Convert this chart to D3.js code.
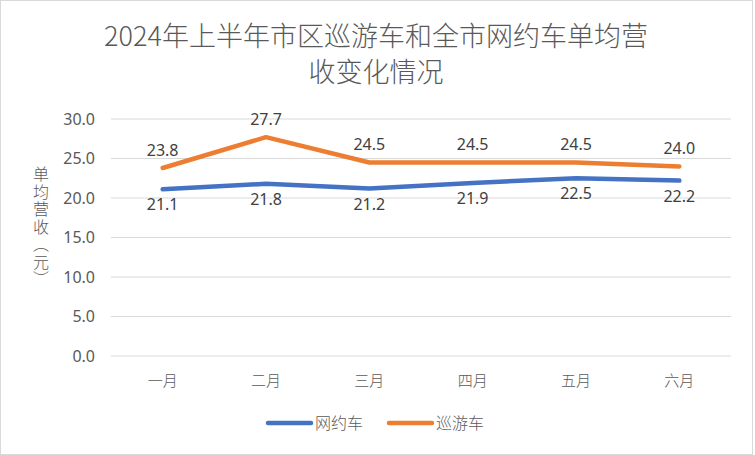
<!DOCTYPE html>
<html>
<head>
<meta charset="utf-8">
<script src="https://cdn.jsdelivr.net/npm/d3@7"></script>
<style>
  body { margin: 0; background: #fff; }
  text { font-family: "Noto Sans CJK SC", "Noto Sans", sans-serif; }
</style>
</head>
<body>
<div id="container"></div>
<script>
const months = ['一月', '二月', '三月', '四月', '五月', '六月'];
const wangyue = [21.1, 21.8, 21.2, 21.9, 22.5, 22.2];
const xunyou = [23.8, 27.7, 24.5, 24.5, 24.5, 24.0];
const yTicks = [0, 5, 10, 15, 20, 25, 30];

const W = 755, H = 455;
const margin = { top: 119, right: 24, bottom: 99, left: 111 };
const width = W - margin.left - margin.right,
  height = H - margin.top - margin.bottom;

const svg = d3.select('#container').append('svg')
  .attr('width', W)
  .attr('height', H);

svg.append('rect')
  .attr('x', 0.5).attr('y', 0.5)
  .attr('width', W - 3).attr('height', H - 1)
  .attr('fill', '#fff')
  .attr('stroke', '#d9d9d9');

// title
const title = svg.append('text')
  .attr('text-anchor', 'middle')
  .attr('fill', '#595959')
  .style('font-size', '27px')
  .style('font-weight', 300);
title.append('tspan').attr('x', 376).attr('y', 46).text('2024年上半年市区巡游车和全市网约车单均营');
title.append('tspan').attr('x', 376).attr('y', 82).text('收变化情况');

const c = svg.append('g')
  .attr('transform', `translate(${margin.left},${margin.top})`);

const xScale = d3.scaleBand().domain(months).range([0, width]);
const yScale = d3.scaleLinear().domain([0, 30]).range([height, 0]);

// gridlines
c.append('g')
  .selectAll('line')
  .data(yTicks)
  .join('line')
  .attr('x1', 0).attr('x2', width)
  .attr('y1', d => yScale(d)).attr('y2', d => yScale(d))
  .attr('stroke', '#d9d9d9')
  .attr('stroke-width', 1);

// y axis
const yAxis = c.append('g')
  .call(d3.axisLeft(yScale).tickValues(yTicks).tickFormat(d3.format('.1f')).tickSize(0).tickPadding(16));
yAxis.select('.domain').remove();
yAxis.selectAll('text')
  .attr('fill', '#595959')
  .style('font-family', '"Noto Sans", sans-serif')
  .style('font-size', '16px');

// x axis
const xAxis = c.append('g')
  .attr('transform', `translate(0,${height})`)
  .call(d3.axisBottom(xScale).tickSize(0).tickPadding(19));
xAxis.select('.domain').remove();
xAxis.selectAll('text')
  .attr('fill', '#595959')
  .style('font-size', '15px')
  .style('font-weight', 300);

// y axis title, vertical writing
svg.append('text')
  .attr('x', 41)
  .attr('y', 166)
  .attr('fill', '#595959')
  .style('writing-mode', 'vertical-rl')
  .style('font-size', '16px')
  .style('font-weight', 300)
  .style('letter-spacing', '1.5px')
  .text('单均营收（元）');

const series = [
  { name: '网约车', values: wangyue, color: '#4472C4', dy: 21 },
  { name: '巡游车', values: xunyou, color: '#ED7D31', dy: -12 }
];

const line = d3.line()
  .x((d, i) => xScale(months[i]) + xScale.bandwidth() / 2)
  .y(d => yScale(d));

series.forEach(s => {
  c.append('path')
    .datum(s.values)
    .attr('fill', 'none')
    .attr('stroke', s.color)
    .attr('stroke-width', 4.5)
    .attr('stroke-linecap', 'round')
    .attr('stroke-linejoin', 'round')
    .attr('d', line);

  c.append('g')
    .selectAll('text')
    .data(s.values)
    .join('text')
    .attr('x', (d, i) => xScale(months[i]) + xScale.bandwidth() / 2)
    .attr('y', d => yScale(d) + s.dy)
    .attr('text-anchor', 'middle')
    .attr('fill', '#404040')
    .style('font-family', '"Noto Sans", sans-serif')
    .style('font-size', '16px')
    .text(d => d.toFixed(1));
});

// legend
const legend = svg.append('g');
const legendX = [268, 389];
series.forEach((s, i) => {
  legend.append('line')
    .attr('x1', legendX[i]).attr('x2', legendX[i] + 43)
    .attr('y1', 423).attr('y2', 423)
    .attr('stroke', s.color)
    .attr('stroke-width', 4.5)
    .attr('stroke-linecap', 'round');
  legend.append('text')
    .attr('x', legendX[i] + 47)
    .attr('y', 429)
    .attr('fill', '#595959')
    .style('font-size', '16px')
    .style('font-weight', 300)
    .text(s.name);
});
</script>
</body>
</html>
